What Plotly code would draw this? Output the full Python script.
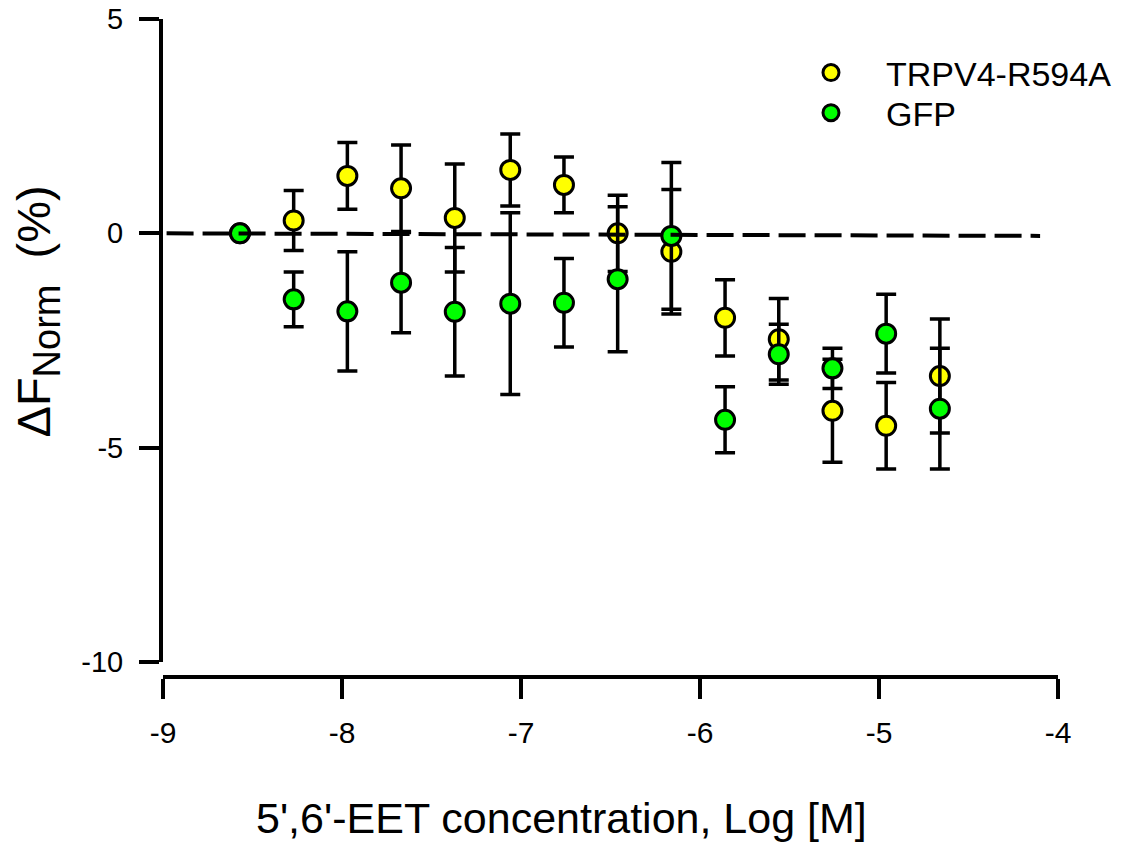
import plotly.graph_objects as go

# Data (log molar concentration of 5',6'-EET)
log_conc = [-8.57, -8.27, -7.97, -7.67, -7.37, -7.06, -6.76, -6.46, -6.16, -5.86, -5.56, -5.26, -4.96, -4.66]

trpv4_mean = [0.0, 0.30, 1.34, 1.05, 0.36, 1.48, 1.13, 0.00, -0.43, -1.97, -2.47, -4.14, -4.49, -3.33]
trpv4_err = [0.0, 0.70, 0.78, 1.01, 1.26, 0.84, 0.65, 0.89, 1.45, 0.89, 0.95, 1.20, 1.01, 1.33]

gfp_mean = [0.0, -1.54, -1.82, -1.15, -1.83, -1.64, -1.62, -1.07, -0.06, -4.35, -2.82, -3.15, -2.34, -4.09]
gfp_err = [0.0, 0.64, 1.39, 1.17, 1.50, 2.12, 1.03, 1.69, 1.71, 0.77, 0.70, 0.47, 0.92, 1.41]

baseline_x = [-8.98, -4.10]
baseline_y = [0.0, -0.06]

x_ticks = [-9, -8, -7, -6, -5, -4]
y_ticks = [-10, -5, 0, 5]

FONT = "Liberation Sans, Arial, sans-serif"

fig = go.Figure()

fig.add_trace(go.Scatter(
    x=log_conc, y=trpv4_mean, mode="markers", name="TRPV4-R594A",
    marker=dict(size=19, color="#FFFF00", line=dict(color="black", width=3)),
    error_y=dict(type="data", array=trpv4_err, color="black", thickness=3.5, width=10),
    legend="legend",
))
fig.add_trace(go.Scatter(
    x=log_conc, y=gfp_mean, mode="markers", name="GFP",
    marker=dict(size=19, color="#00FF00", line=dict(color="black", width=3)),
    error_y=dict(type="data", array=gfp_err, color="black", thickness=3.5, width=10),
    legend="legend2",
))
fig.add_trace(go.Scatter(
    x=baseline_x, y=baseline_y, mode="lines", showlegend=False,
    line=dict(color="black", width=4, dash="27px,9px"),
    hoverinfo="skip",
))

fig.update_layout(
    width=1123, height=835,
    margin=dict(l=155, r=73, t=11, b=166, autoexpand=False),
    paper_bgcolor="white", plot_bgcolor="white",
    font=dict(family=FONT, color="black", size=29),
    xaxis=dict(
        range=[-9, -4], domain=[0, 1], anchor="free", position=0,
        automargin=False,
        showline=True, linewidth=4, linecolor="black",
        ticks="outside", ticklen=20, tickwidth=4, tickcolor="black",
        tickvals=x_ticks, ticktext=[str(v) for v in x_ticks],
        tickfont=dict(size=30), ticklabelstandoff=8,
        ticklabeloverflow="allow",
        showgrid=False, zeroline=False,
    ),
    yaxis=dict(
        range=[-10, 5], domain=[0.0228, 1],
        automargin=False,
        showline=True, linewidth=4, linecolor="black",
        ticks="outside", ticklen=20, tickwidth=4, tickcolor="black",
        tickvals=y_ticks, ticktext=[str(v) for v in y_ticks],
        tickfont=dict(size=29), ticklabelstandoff=10,
        ticklabeloverflow="allow",
        showgrid=False, zeroline=False,
    ),
    legend=dict(x=0.6849, y=0.918, xanchor="left", yanchor="middle",
                font=dict(size=34), itemwidth=100, bgcolor="rgba(0,0,0,0)"),
    legend2=dict(x=0.6849, y=0.857, xanchor="left", yanchor="middle",
                 font=dict(size=34), itemwidth=100, bgcolor="rgba(0,0,0,0)"),
    annotations=[
        dict(text="5',6'-EET concentration, Log [M]", xref="paper", yref="paper",
             x=0.4458, y=-0.2143, xanchor="center", yanchor="middle",
             showarrow=False, font=dict(size=43)),
        dict(text="ΔF<sub><span style='font-size:38px'>Norm</span></sub>&nbsp;&nbsp;(%)",
             xref="paper", yref="paper",
             x=-0.14, y=0.555, xanchor="center", yanchor="middle", textangle=-90,
             showarrow=False, font=dict(size=47)),
    ],
)

fig.write_html("out.html")
